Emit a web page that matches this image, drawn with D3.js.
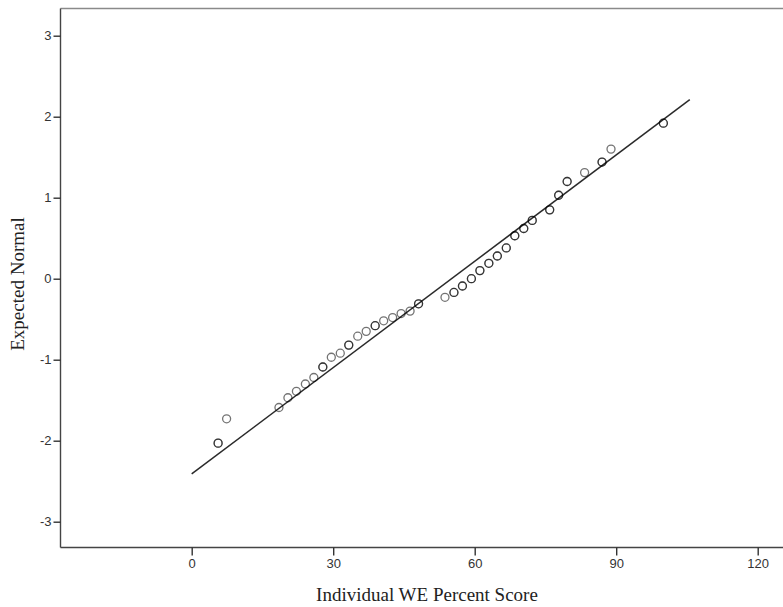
<!DOCTYPE html>
<html>
<head>
<meta charset="utf-8">
<script src="https://d3js.org/d3.v7.min.js"></script>
<style>
  body { margin: 0; background: #fff; }
  svg { display: block; }
</style>
</head>
<body>
<div id="chart"></div>
<script>
// Normal Q-Q plot data
var scores   = [5.6, 7.4, 18.5, 20.4, 22.2, 24.1, 25.9, 27.8, 29.6, 31.5, 33.3, 35.2, 37.0, 38.9,
                40.7, 42.6, 44.4, 46.3, 48.1, 53.7, 55.6, 57.4, 59.3, 61.1, 63.0, 64.8, 66.7,
                68.5, 70.4, 72.2, 75.9, 77.8, 79.6, 83.3, 87.0, 88.9, 100];
var expected = [-2.03, -1.73, -1.59, -1.47, -1.39, -1.30, -1.22, -1.09, -0.97, -0.92, -0.82, -0.71, -0.65, -0.58,
                -0.52, -0.48, -0.43, -0.40, -0.31, -0.23, -0.17, -0.09, 0.00, 0.10, 0.19, 0.28, 0.38,
                0.53, 0.62, 0.72, 0.85, 1.03, 1.20, 1.31, 1.44, 1.60, 1.92];
// cases at each point (ties overlap and draw darker)
var counts   = [2, 1, 1, 1, 1, 1, 1, 2, 1, 1, 2, 1, 1, 2,
                1, 1, 1, 1, 2, 1, 2, 2, 2, 2, 2, 2, 2,
                2, 2, 2, 2, 2, 2, 1, 2, 1, 2];
var lineX = [0, 105.6];
var lineY = [-2.41, 2.21];
var xTicks = [0, 30, 60, 90, 120];
var yTicks = [-3, -2, -1, 0, 1, 2, 3];

var w = 783, h = 607;
var plotLeft = 60.5, plotTop = 8.5, plotBottom = 547.5, plotRight = 790;

var svg = d3.select("#chart").append("svg")
    .attr("width", w)
    .attr("height", h);

var x = d3.scaleLinear().domain([0, 120]).range([191.7, 757.7]);
var y = d3.scaleLinear().domain([-3, 3]).range([521.7, 35.7]);

// frame
svg.append("line")
    .attr("x1", plotLeft).attr("x2", plotRight).attr("y1", plotTop).attr("y2", plotTop)
    .style("stroke", "#8a8a8a").style("stroke-width", 1.6);
svg.append("line")
    .attr("x1", plotRight).attr("x2", plotRight).attr("y1", plotTop).attr("y2", plotBottom)
    .style("stroke", "#444").style("stroke-width", 1.4);

// axes
var fmt = function (d) { return String(d); };
var xAxis = d3.axisBottom(x).tickValues(xTicks).tickSize(8).tickPadding(3).tickFormat(fmt);
var yAxis = d3.axisLeft(y).tickValues(yTicks).tickSize(7).tickPadding(2).tickFormat(fmt);

var gx = svg.append("g")
    .attr("transform", "translate(0," + plotBottom + ")")
    .call(xAxis);
gx.select(".domain").attr("d", "M" + plotLeft + ",0H" + plotRight);

var gy = svg.append("g")
    .attr("transform", "translate(" + plotLeft + ",0)")
    .call(yAxis);
gy.select(".domain").attr("d", "M0," + plotTop + "V" + plotBottom);

svg.selectAll(".domain").style("stroke", "#444").style("stroke-width", 1.4);
svg.selectAll(".tick line").style("stroke", "#333").style("stroke-width", 1.4);
svg.selectAll(".tick text")
    .style("font-family", "'Liberation Sans', Arial, sans-serif")
    .style("font-size", "13px")
    .style("fill", "#333");

// reference line
svg.append("line")
    .attr("x1", x(lineX[0])).attr("y1", y(lineY[0]))
    .attr("x2", x(lineX[1])).attr("y2", y(lineY[1]))
    .style("stroke", "#2a2a2a")
    .style("stroke-width", 1.5);

// points, one circle per case
var cases = [];
scores.forEach(function (s, i) {
    for (var k = 0; k < counts[i]; k++) cases.push({ s: s, e: expected[i] });
});

svg.append("g").selectAll("circle")
    .data(cases)
    .enter()
    .append("circle")
    .attr("cx", function (d) { return x(d.s); })
    .attr("cy", function (d) { return y(d.e); })
    .attr("r", 4)
    .style("fill", "none")
    .style("stroke", "#000")
    .style("stroke-opacity", 0.55)
    .style("stroke-width", 1.3);

// axis titles
svg.append("text")
    .text("Individual WE Percent Score")
    .attr("x", 427)
    .attr("y", 601)
    .attr("text-anchor", "middle")
    .style("font-family", "'Liberation Serif', 'Times New Roman', serif")
    .style("font-size", "19px")
    .style("fill", "#222");

svg.append("text")
    .text("Expected Normal")
    .attr("transform", "translate(24,284) rotate(-90)")
    .attr("text-anchor", "middle")
    .style("font-family", "'Liberation Serif', 'Times New Roman', serif")
    .style("font-size", "19px")
    .style("fill", "#222");
</script>
</body>
</html>
